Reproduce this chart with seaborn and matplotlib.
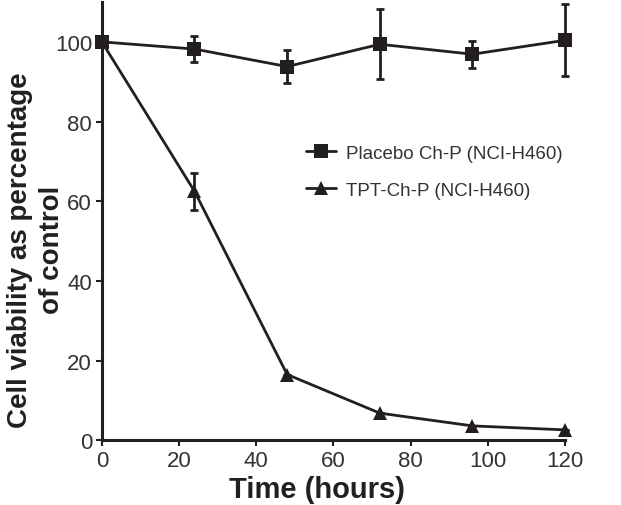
import numpy as np
import pandas as pd
import matplotlib
matplotlib.use("Agg")
import matplotlib.pyplot as plt
import seaborn as sns

# ---- data ----
hours = [0, 24, 48, 72, 96, 120]
placebo_mean = [100, 98.2, 93.8, 99.4, 96.9, 100.4]
placebo_err = [0, 3.2, 4.1, 8.8, 3.4, 9.0]
tpt_mean = [100, 62.5, 16.5, 6.8, 3.6, 2.6]
tpt_err = [0, 4.7, 0, 0, 0, 0]

labels = ["Placebo Ch-P (NCI-H460)", "TPT-Ch-P (NCI-H460)"]

INK = "#231f20"

sns.set_theme(style="ticks")
plt.rcParams["font.family"] = ["Liberation Sans", "DejaVu Sans"]

df = pd.concat([
    pd.DataFrame({"Time": hours, "Viability": placebo_mean, "err": placebo_err, "group": labels[0]}),
    pd.DataFrame({"Time": hours, "Viability": tpt_mean, "err": tpt_err, "group": labels[1]}),
])

fig = plt.figure(figsize=(6.21, 5.06), dpi=100)
ax = fig.add_axes([0.164, 0.128, 0.746, 0.866])

sns.lineplot(
    data=df, x="Time", y="Viability", hue="group", style="group",
    palette=[INK, INK], markers=["s", "^"], dashes=False,
    markersize=9.5, linewidth=2, markeredgewidth=0, ax=ax, legend=True,
    clip_on=False,
)

for lab in labels:
    sub = df[df["group"] == lab]
    eb = ax.errorbar(sub["Time"], sub["Viability"], yerr=sub["err"], fmt="none",
                     ecolor=INK, elinewidth=2, capsize=2.6, capthick=2, zorder=1)
    for art in eb.lines[1] + eb.lines[2]:
        art.set_clip_on(False)

ax.set_xlim(0, 120)
ax.set_ylim(0, 110)
ax.set_xticks(range(0, 121, 20))
ax.set_yticks(range(0, 101, 20))

for s in ["top", "right"]:
    ax.spines[s].set_visible(False)
for s in ["left", "bottom"]:
    ax.spines[s].set_linewidth(2.2)
    ax.spines[s].set_color(INK)

ax.tick_params(axis="both", labelsize=16, colors=INK, length=4, width=1.5, pad=3)
for t in ax.get_xticklabels() + ax.get_yticklabels():
    t.set_color("#333333")

ax.set_xlabel("Time (hours)", fontsize=21, fontweight="bold", color=INK)
ax.set_ylabel("Cell viability as percentage\nof control", fontsize=20,
              fontweight="bold", color=INK, linespacing=1.3)
ax.xaxis.set_label_coords(0.464, -0.08)
ax.yaxis.set_label_coords(-0.08, 0.436)

leg = ax.legend(loc="center left", bbox_to_anchor=(0.405, 0.613), frameon=False,
                fontsize=13.5, handlelength=1.6, labelspacing=1.05, handletextpad=0.5)
for text in leg.get_texts():
    text.set_color("#333333")

fig.savefig("out.png", dpi=100)
